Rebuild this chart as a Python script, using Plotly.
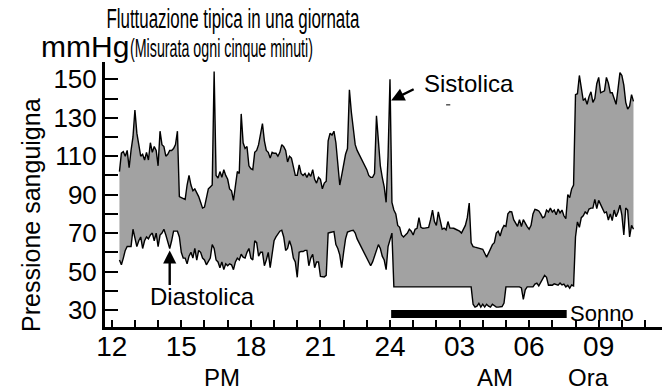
import plotly.graph_objects as go

# Readings taken every five minutes, from 12:20 until 10:30 the next morning
START_HOUR = 12 + 20 / 60
STEP_HOURS = 5 / 60

systolic = [
    102, 111.6, 112.4, 110, 113, 104, 113, 120, 134, 122,
    116, 110, 111, 108, 112, 108, 117, 112, 115, 113,
    105, 123, 116, 115, 110, 111, 113, 113, 114, 116,
    123, 89, 88.5, 88, 87.5, 95, 100, 95, 92, 93,
    91, 89, 86, 83, 83.5, 88, 93, 94, 95, 154,
    100, 98.6, 102, 99, 103, 100, 98, 93, 92, 87,
    95, 102, 101, 132, 117, 114, 115, 105, 103.5, 103,
    112, 113, 116, 122, 127, 118, 113, 112, 109, 112,
    111.5, 111.5, 110, 112, 116, 115, 113, 107, 110, 109,
    104.5, 100, 100, 105.5, 101, 100, 101, 99, 101, 99.5,
    103, 98, 96, 99, 98, 93, 96, 97, 118, 122,
    121, 123, 117, 106, 95, 100, 105, 111, 114, 144.5,
    133, 123, 116, 113, 111, 109, 107, 105.5, 103, 100,
    99, 99, 101, 131, 117, 105, 99, 94, 86, 110,
    150, 86, 82, 80, 74, 73, 69, 68, 69, 70,
    72, 71, 69, 72, 72.5, 78, 73, 72.5, 72.6, 73,
    73, 77, 82, 76, 74, 81, 76, 72, 72.6, 71.7,
    76, 72.6, 72.6, 72.5, 72, 71.7, 71, 70, 72, 74,
    78, 85.6, 65, 63, 62.7, 62.4, 62.1, 62, 61.6, 59.5,
    57.5, 59.6, 62, 64, 65, 70, 71, 68.5, 72, 74,
    73.5, 80, 81.2, 81, 77, 75, 73.5, 77, 73.4, 77,
    75, 73.4, 72, 74, 80, 82.3, 82, 81.5, 80, 78,
    78.5, 82, 81, 83, 81, 82, 79.5, 82.5, 80.5, 82,
    79, 77.5, 90, 88.5, 93, 95, 142, 142.5, 152, 146,
    139, 140, 137, 141, 143.5, 138, 140, 147.7, 151, 143,
    143.5, 144, 151, 148, 143, 143, 140, 137, 145, 153.5,
    152, 147, 138, 134.5, 136, 142, 138.5,
]

diastolic = [
    56, 53.5, 57, 61, 63, 63, 63, 72, 67, 63,
    66, 68, 62, 66, 68, 67, 69, 70, 66, 70,
    63, 69, 70, 72, 69, 66, 62, 66, 71, 71,
    71, 68, 60, 57, 57, 54, 58, 60, 57, 62,
    56, 61, 60, 57, 56, 53.5, 55, 57, 64, 62,
    56, 55, 52, 55, 51, 54, 53, 54, 53.5, 51,
    55, 57, 56, 59, 57.5, 57, 60, 62, 57, 56,
    66, 65, 58, 60, 60, 53, 56, 60, 52, 60,
    66, 68, 69.5, 71, 71.5, 68, 61, 62, 66, 63,
    57, 55, 47, 60, 60.5, 60.4, 61, 61, 53, 57,
    59, 52, 55, 55, 47.5, 47.5, 47.2, 48, 70, 70.3,
    70.5, 70.8, 64, 62, 58.7, 52, 60, 67, 70.5, 71,
    71.3, 71.5, 70, 67, 65, 63, 61, 59, 57, 55,
    53, 55, 58, 62, 64, 62, 58, 56, 51, 63,
    66, 70, 42, 42, 42, 42, 42, 42, 42, 42,
    42, 42, 42, 42, 42, 42, 42, 42, 42, 42,
    42, 42, 42, 42, 42, 42, 42, 42, 42, 42,
    42, 42, 42, 42, 42, 42, 42, 42, 42, 42,
    42, 42, 42, 33, 31.5, 32, 33.5, 31.5, 33, 31.5,
    33, 32, 31.5, 33, 32, 31.5, 31.5, 31.5, 31.8, 33.6,
    42, 42, 42, 42, 42, 42, 42, 42, 41.5, 35.5,
    40.5, 42, 42, 42, 42, 43.5, 44, 42.5, 44.5, 46,
    48, 47, 42.9, 43, 42.9, 43.6, 43.2, 42.9, 44, 43,
    43.5, 42, 42.8, 41.3, 43, 42.5, 68, 75.8, 73, 78,
    79, 81, 80, 82.5, 83, 83, 87.5, 82.7, 87, 84.5,
    82, 80.5, 81, 76.8, 80, 76.5, 82, 78.5, 81, 84.5,
    79.3, 69, 83, 82, 68, 74, 72,
]

hours = [START_HOUR + STEP_HOURS * i for i in range(len(systolic))]

# Hour ticks along the time axis: 12 .. 35 (35 = 11 the next morning)
hour_ticks = list(range(12, 36))
hour_labels = {12: "12", 15: "15", 18: "18", 21: "21", 24: "24", 27: "03", 30: "06", 33: "09"}
pressure_ticks = [30, 40, 50, 60, 70, 80, 90, 100, 110, 120, 130, 140, 150]
pressure_labels = ["30", "", "50", "", "70", "", "90", "", "110", "", "130", "", "150"]

# Sleep period (hours)
sleep_start = 24.05
sleep_end = 31.62
sleep_level = 27.9

TITLE = "Fluttuazione tipica in una giornata"
SUBTITLE = "(Misurata ogni cinque minuti)"

FONT = "Liberation Sans, Arial, sans-serif"
FILL = "#a2a2a2"

fig = go.Figure()
fig.add_trace(go.Scatter(
    x=hours, y=diastolic, mode="lines",
    line=dict(color="black", width=1.4), hoverinfo="skip", showlegend=False,
))
fig.add_trace(go.Scatter(
    x=hours, y=systolic, mode="lines", fill="tonexty", fillcolor=FILL,
    line=dict(color="black", width=1.4), hoverinfo="skip", showlegend=False,
))
fig.add_trace(go.Scatter(
    x=[sleep_start, sleep_end], y=[sleep_level, sleep_level], mode="lines",
    line=dict(color="black", width=8), hoverinfo="skip", showlegend=False,
))

ann = []
# Title lines (set in a condensed face, see the script passed to write_html)
ann.append(dict(text=TITLE, xref="paper", yref="paper",
                x=0.2307, y=1.162, xanchor="center", yanchor="middle", showarrow=False,
                font=dict(family=FONT, size=27, color="black")))
ann.append(dict(text="mmHg", xref="paper", yref="paper", x=-0.1185, y=1.06,
                xanchor="left", yanchor="middle", showarrow=False,
                font=dict(family=FONT, size=30, color="black")))
ann.append(dict(text=SUBTITLE, xref="paper", yref="paper",
                x=0.2092, y=1.052, xanchor="center", yanchor="middle", showarrow=False,
                font=dict(family=FONT, size=25, color="black")))
# Axis title
ann.append(dict(text="Pressione sanguigna", xref="paper", yref="paper", x=-0.133, y=0.4226,
                xanchor="center", yanchor="middle", textangle=-90, showarrow=False,
                font=dict(family=FONT, size=25, color="black")))
# Series labels and arrows
peak = systolic.index(max(systolic[130:150]))
ann.append(dict(text="Sistolica", xref="x", yref="y", x=25.38, y=147.6,
                xanchor="left", yanchor="middle", showarrow=False,
                font=dict(family=FONT, size=24, color="black")))
ann.append(dict(text="", xref="x", yref="y", x=hours[peak] + 0.05, y=systolic[peak] - 11,
                ax=24, ay=-12, showarrow=True, arrowhead=2, arrowsize=1.1, arrowwidth=2.4,
                arrowcolor="black"))
ann.append(dict(text="Diastolica", xref="x", yref="y", x=13.55, y=36.8,
                xanchor="left", yanchor="middle", showarrow=False,
                font=dict(family=FONT, size=24, color="black")))
ann.append(dict(text="", xref="x", yref="y", x=hours[26], y=diastolic[26] - 1,
                ax=0, ay=36, showarrow=True, arrowhead=2, arrowsize=1.1, arrowwidth=2.4,
                arrowcolor="black"))
ann.append(dict(text="Sonno", xref="x", yref="y", x=31.68, y=28.4,
                xanchor="left", yanchor="middle", showarrow=False,
                font=dict(family=FONT, size=22, color="black")))
# Time-of-day captions under the axis
for label, hx in (("PM", 16.76), ("AM", 28.53), ("Ora", 32.54)):
    ann.append(dict(text=label, xref="x", yref="paper", x=hx, y=-0.19,
                    xanchor="center", yanchor="middle", showarrow=False,
                    font=dict(family=FONT, size=24, color="black")))

fig.update_layout(
    width=662, height=391,
    margin=dict(l=105, r=0, t=62, b=64),
    paper_bgcolor="white", plot_bgcolor="white",
    annotations=ann,
    shapes=[dict(type="line", xref="x", yref="y", x0=26.42, x1=26.6, y0=136.7, y1=136.7,
                 line=dict(color="black", width=1))],
    xaxis=dict(
        range=[11.71, 35.73], showgrid=False, zeroline=False,
        showline=True, linecolor="black", linewidth=3,
        ticks="inside", ticklen=7, tickwidth=2, tickcolor="black",
        tickvals=hour_ticks, ticktext=[hour_labels.get(h, "") for h in hour_ticks],
        tickfont=dict(family=FONT, size=28, color="black"),
        ticklabelstandoff=-8,
    ),
    yaxis=dict(
        range=[21.15, 159.0], showgrid=False, zeroline=False,
        showline=True, linecolor="black", linewidth=3,
        ticks="inside", ticklen=13, tickwidth=2, tickcolor="black",
        tickvals=pressure_ticks, ticktext=pressure_labels,
        tickfont=dict(family=FONT, size=26, color="black"),
    ),
)

# The two heading lines use a condensed setting: squeeze their glyphs to a fixed run length.
condense_js = """
var gd = document.getElementById('{plot_id}');
var runs = {"%s": 253, "%s": 183};
gd.querySelectorAll('text.annotation-text').forEach(function (t) {
    var w = runs[t.textContent];
    if (w) {
        t.setAttribute('textLength', w);
        t.setAttribute('lengthAdjust', 'spacingAndGlyphs');
    }
});
""" % (TITLE, SUBTITLE)

fig.write_html("out.html", post_script=condense_js)
